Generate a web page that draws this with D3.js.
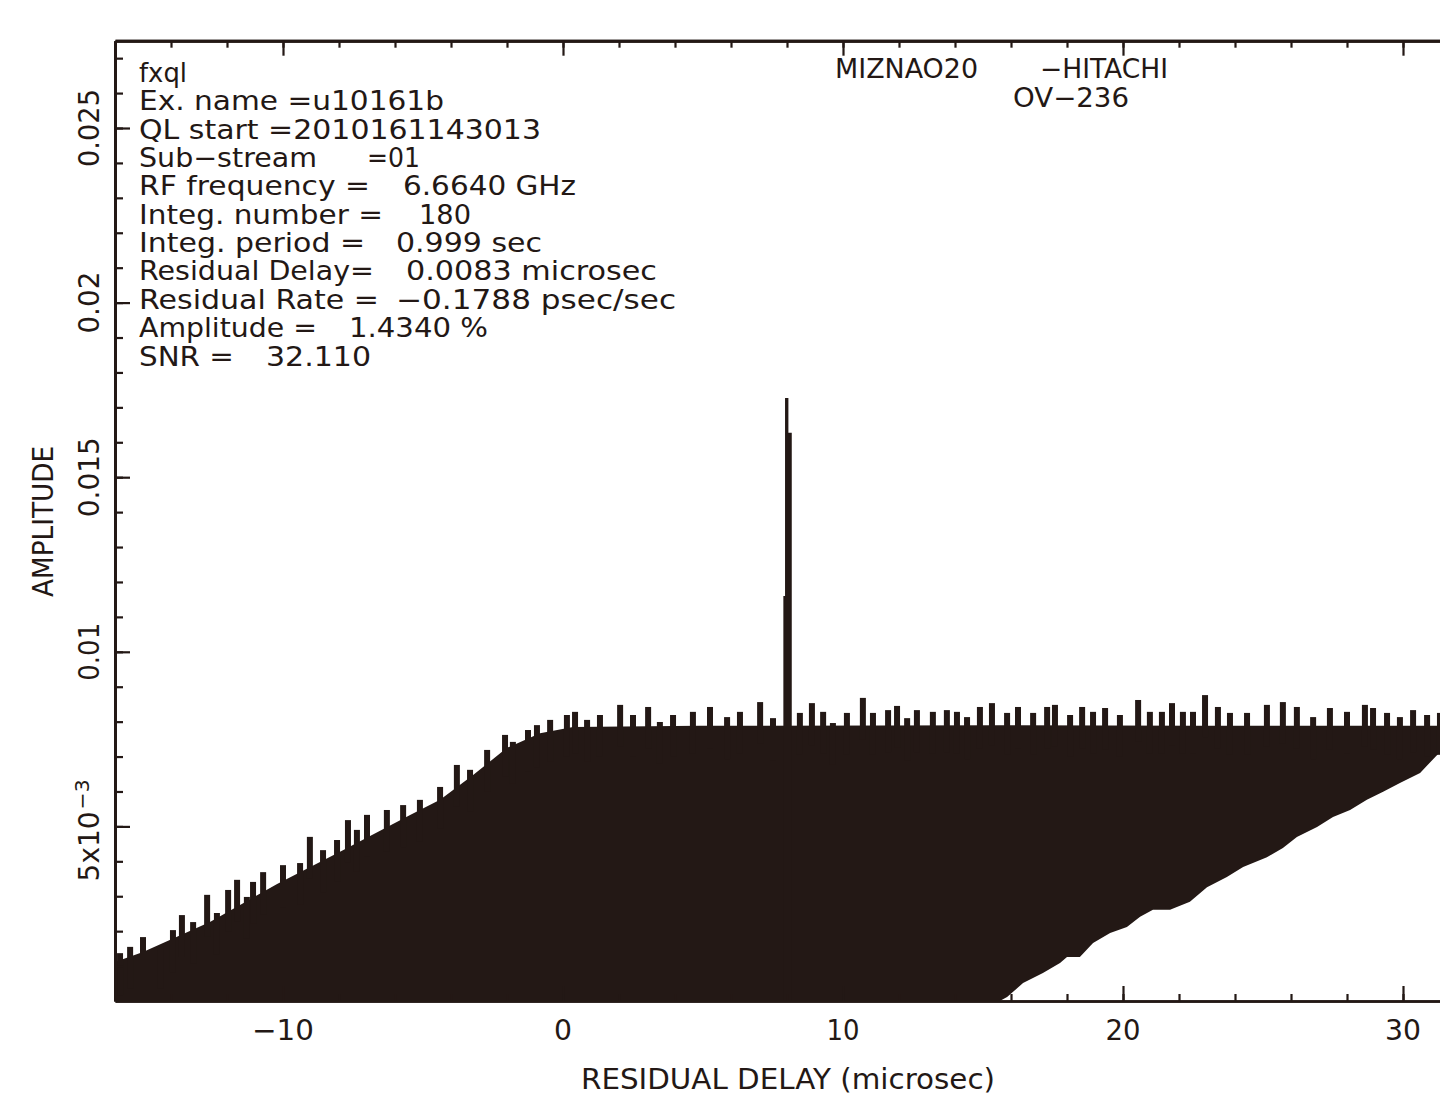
<!DOCTYPE html>
<html><head><meta charset="utf-8">
<script src="https://cdn.jsdelivr.net/npm/d3@7"></script>
<style>
body{margin:0;background:#fff}
svg{display:block}
text{font-family:"DejaVu Sans",sans-serif;fill:#231815;white-space:pre}
</style>
</head><body>
<svg id="c" width="1440" height="1096"></svg>
<script>
// ---------------- data ----------------
const xMajorTicks = [-10, 0, 10, 20, 30];
const xTickLabels = ["\u221210", "0", "10", "20", "30"];
const xMinorTicks = [-14,-12,-10,-8,-6,-4,-2,0,2,4,6,8,10,12,14,16,18,20,22,24,26,28,30];
const yMajorTicks = [0.005, 0.01, 0.015, 0.02, 0.025];
const yTickLabels = ["5x10", "0.01", "0.015", "0.02", "0.025"];
const yMinorTicks = [0.001,0.002,0.003,0.004,0.005,0.006,0.007,0.008,0.009,0.010,0.011,0.012,0.013,0.014,0.015,0.016,0.017,0.018,0.019,0.020,0.021,0.022,0.023,0.024,0.025,0.026,0.027];

// upper body of the noise (base of the spikes)
const bodyDelay = [-16.0, -15.0, -12.61, -10.21, -7.86, -5.46, -4.39, -3.21, -2.0, -0.82, 0.36, 4.89, 15.61, 22.75, 31.4];
const bodyAmp   = [0.00112, 0.00140, 0.00226, 0.00335, 0.00432, 0.00533, 0.00576, 0.00647, 0.00725, 0.00767, 0.00785, 0.00788, 0.00790, 0.00788, 0.00788];

// lower edge of the noise
const lowerDelay = [-16.0, 15.6, 15.86, 16.43, 17.14, 17.75, 18.0, 18.46, 18.93, 19.54, 20.14, 20.61, 21.07, 21.68, 22.39, 23.0, 23.71, 24.29, 25.14, 25.71, 26.21, 26.93, 27.5, 28.11, 28.71, 29.29, 29.89, 30.61, 31.4];
const lowerAmp   = [0.0, 0.0, 0.000115, 0.000515, 0.000802, 0.00109, 0.00126, 0.00126, 0.00166, 0.00195, 0.00212, 0.00241, 0.00261, 0.00261, 0.00284, 0.00326, 0.00355, 0.00384, 0.00412, 0.00438, 0.0047, 0.00498, 0.00527, 0.00547, 0.00576, 0.00599, 0.00624, 0.00653, 0.0072];

// spike tips on the top of the noise
const tipDelay = [-15.82,-15.46,-15.0,-14.39,-13.93,-13.61,-13.21,-12.71,-12.36,-11.96,-11.64,-11.29,-11.07,-10.71,-10.0,-9.39,-9.04,-8.57,-8.07,-7.68,-7.36,-7.0,-6.29,-5.71,-5.11,
  -4.39,-3.79,-3.32,-2.71,-2.07,-1.79,-1.25,-0.93,-0.46,0.14,0.43,0.86,1.32,2.04,2.5,3.04,3.46,3.93,4.64,5.25,5.86,6.32,7.04,7.5,
  8.46,8.89,9.29,9.64,10.14,10.71,11.07,11.61,11.93,12.29,12.64,13.21,13.71,14.07,14.43,14.89,15.32,15.86,16.25,16.79,17.29,17.57,18.11,18.54,18.93,19.36,19.89,
  20.54,20.96,21.39,21.75,22.14,22.5,22.93,23.39,23.82,24.43,25.14,25.71,26.21,26.79,27.39,28.0,28.64,28.93,29.43,29.89,30.36,30.86,31.32];
const tipAmp = [0.00137,0.00155,0.00183,0.00155,0.00203,0.00246,0.00226,0.00304,0.00252,0.00318,0.00347,0.00298,0.00341,0.00369,0.00389,0.00395,0.00470,0.00432,0.00461,0.00518,0.00490,0.00533,0.00547,0.00561,0.00576,
  0.00613,0.00676,0.00662,0.00719,0.00762,0.00742,0.00776,0.00790,0.00805,0.00819,0.00828,0.00805,0.00819,0.00848,0.00819,0.00842,0.00799,0.00819,0.00828,0.00842,0.00813,0.00828,0.00856,0.00810,
  0.00825,0.00853,0.00828,0.00796,0.00825,0.00868,0.00825,0.00833,0.00845,0.00810,0.00833,0.00828,0.00833,0.00828,0.00813,0.00842,0.00853,0.00825,0.00842,0.00825,0.00842,0.00848,0.00819,0.00842,0.00828,0.00839,0.00819,
  0.00862,0.00828,0.00828,0.00853,0.00828,0.00828,0.00876,0.00842,0.00825,0.00825,0.00848,0.00856,0.00842,0.00813,0.00839,0.00828,0.00848,0.00839,0.00825,0.00813,0.00833,0.00819,0.00825];

// fringe peak
const peakDelay = [7.87, 7.93, 8.05, 8.17];
const peakAmp   = [0.0116, 0.01727, 0.01627, 0.01627];

// text
const infoLabels = ["fxql", "Ex. name =u10161b", "QL start =2010161143013", "Sub\u2212stream", "RF frequency =", "Integ. number =", "Integ. period =", "Residual Delay=", "Residual Rate =", "Amplitude =", "SNR ="];
const infoValues = ["", "", "", "=01", "6.6640 GHz", "180", "0.999 sec", "0.0083 microsec", "\u22120.1788 psec/sec", "1.4340 %", "32.110"];
const stationLabels = ["MIZNAO20", "\u2212HITACHI", "OV\u2212236"];
const xTitle = "RESIDUAL DELAY (microsec)";
const yTitle = "AMPLITUDE";

// ---------------- layout ----------------
const INK = "#231815";
const L = 115, R = 1459, B = 1001, PXPERUNIT = 34920;
const x = d3.scaleLinear().domain([-16, 32]).range([L, R]);
const y = d3.scaleLinear().domain([0, 0.0275]).range([B, B - 0.0275 * PXPERUNIT]);
const T = y(0.0275);

const svg = d3.select("#c");
svg.append("defs").append("clipPath").attr("id", "plot")
  .append("rect").attr("x", L).attr("y", T).attr("width", R - L).attr("height", B - T);

const g = svg.append("g").attr("clip-path", "url(#plot)");

// body polygon
const upperPts = bodyDelay.map((d, i) => [d, bodyAmp[i]]);
const lowerPts = lowerDelay.map((d, i) => [d, lowerAmp[i]]).reverse();
const poly = d3.line().x(p => x(p[0])).y(p => y(p[1]));
g.append("path").attr("d", poly(upperPts.concat(lowerPts)) + "Z").attr("fill", INK);

// spikes on top
g.selectAll("rect.tip").data(tipDelay).enter().append("rect")
  .attr("class", "tip")
  .attr("x", (d) => x(d) - 3)
  .attr("width", 6)
  .attr("y", (d, i) => y(tipAmp[i]))
  .attr("height", (d, i) => y(tipAmp[i] - 0.0012) - y(tipAmp[i]))
  .attr("fill", INK);

// peak
const peakArea = d3.area().curve(d3.curveStepAfter)
  .x((d, i) => x(peakDelay[i])).y0(y(0)).y1((d, i) => y(peakAmp[i]));
g.append("path").attr("d", peakArea(peakDelay)).attr("fill", INK);

// ---------------- axes ----------------
function styleAxis(sel, w) {
  sel.selectAll("path.domain").attr("stroke", INK).attr("stroke-width", w);
  sel.selectAll(".tick line").attr("stroke", INK).attr("stroke-width", 2.2);
  sel.selectAll(".tick text").remove();
}
// bottom
svg.append("g").attr("transform", `translate(0,${B})`)
  .call(d3.axisBottom(x).tickValues(xMinorTicks).tickSizeInner(-7).tickSizeOuter(0).tickFormat(""))
  .call(s => styleAxis(s, 2.6));
svg.append("g").attr("transform", `translate(0,${B})`)
  .call(d3.axisBottom(x).tickValues(xMajorTicks).tickSizeInner(-15).tickSizeOuter(0).tickFormat(""))
  .call(s => styleAxis(s, 2.6));
// top
svg.append("g").attr("transform", `translate(0,${T})`)
  .call(d3.axisTop(x).tickValues(xMinorTicks).tickSizeInner(-7).tickSizeOuter(0).tickFormat(""))
  .call(s => styleAxis(s, 3));
svg.append("g").attr("transform", `translate(0,${T})`)
  .call(d3.axisTop(x).tickValues(xMajorTicks).tickSizeInner(-15).tickSizeOuter(0).tickFormat(""))
  .call(s => styleAxis(s, 3));
// left
svg.append("g").attr("transform", `translate(${L},0)`)
  .call(d3.axisLeft(y).tickValues(yMinorTicks).tickSizeInner(-8).tickSizeOuter(0).tickFormat(""))
  .call(s => styleAxis(s, 3));
svg.append("g").attr("transform", `translate(${L},0)`)
  .call(d3.axisLeft(y).tickValues(yMajorTicks).tickSizeInner(-15).tickSizeOuter(0).tickFormat(""))
  .call(s => styleAxis(s, 3));

// bottom tick labels
const xLabelWidths = [62, 18, 33, 35, 36];
svg.selectAll("text.xl").data(xMajorTicks).enter().append("text")
  .attr("class", "xl")
  .attr("x", (d, i) => x(d) - xLabelWidths[i] / 2)
  .attr("y", 1040)
  .attr("font-size", 28)
  .attr("textLength", (d, i) => xLabelWidths[i])
  .attr("lengthAdjust", "spacingAndGlyphs")
  .text((d, i) => xTickLabels[i]);

// left tick labels (rotated)
const yLabelWidths = [70, 58, 80, 62, 78];
yMajorTicks.forEach((v, i) => {
  const cy = y(v);
  const gg = svg.append("g").attr("transform", `translate(99,${i === 0 ? cy + 55 : cy}) rotate(-90)`);
  if (i === 0) {
    gg.append("text").attr("x", 0).attr("y", 0).attr("font-size", 28)
      .attr("textLength", yLabelWidths[0]).attr("lengthAdjust", "spacingAndGlyphs").text(yTickLabels[0]);
    gg.append("text").attr("x", 72).attr("y", -10).attr("font-size", 20)
      .attr("textLength", 30).attr("lengthAdjust", "spacingAndGlyphs").text("\u22123");
  } else {
    gg.append("text").attr("x", -yLabelWidths[i] / 2).attr("y", 0).attr("font-size", 28)
      .attr("textLength", yLabelWidths[i]).attr("lengthAdjust", "spacingAndGlyphs")
      .text(yTickLabels[i]);
  }
});

// axis titles
svg.append("text").attr("x", 581).attr("y", 1089).attr("font-size", 28)
  .attr("textLength", 414).attr("lengthAdjust", "spacingAndGlyphs").text(xTitle);
svg.append("g").attr("transform", "translate(53,522) rotate(-90)")
  .append("text").attr("x", -75).attr("y", 0).attr("font-size", 29)
  .attr("textLength", 151).attr("lengthAdjust", "spacingAndGlyphs").text(yTitle);

// info block
const infoBase = [82, 110, 138.5, 167, 195, 223.5, 252, 280, 309, 337, 366];
const labelW = [48, 305, 402, 178, 231, 244, 226, 235, 240, 178, 95];
const valX = [0, 0, 0, 367, 403, 419, 396, 406, 396, 349, 266];
const valW = [0, 0, 0, 53, 173, 52, 146, 251, 280, 139, 105];
infoLabels.forEach((s, i) => {
  svg.append("text").attr("x", 139).attr("y", infoBase[i]).attr("font-size", 27)
    .attr("textLength", labelW[i]).attr("lengthAdjust", "spacingAndGlyphs").text(s);
  if (infoValues[i]) {
    svg.append("text").attr("x", valX[i]).attr("y", infoBase[i]).attr("font-size", 27)
      .attr("textLength", valW[i]).attr("lengthAdjust", "spacingAndGlyphs").text(infoValues[i]);
  }
});

// station labels
const stX = [835, 1040, 1013], stY = [78, 78, 107], stW = [143, 128, 116];
stationLabels.forEach((s, i) => {
  svg.append("text").attr("x", stX[i]).attr("y", stY[i]).attr("font-size", 27)
    .attr("textLength", stW[i]).attr("lengthAdjust", "spacingAndGlyphs").text(s);
});
</script>
</body></html>
